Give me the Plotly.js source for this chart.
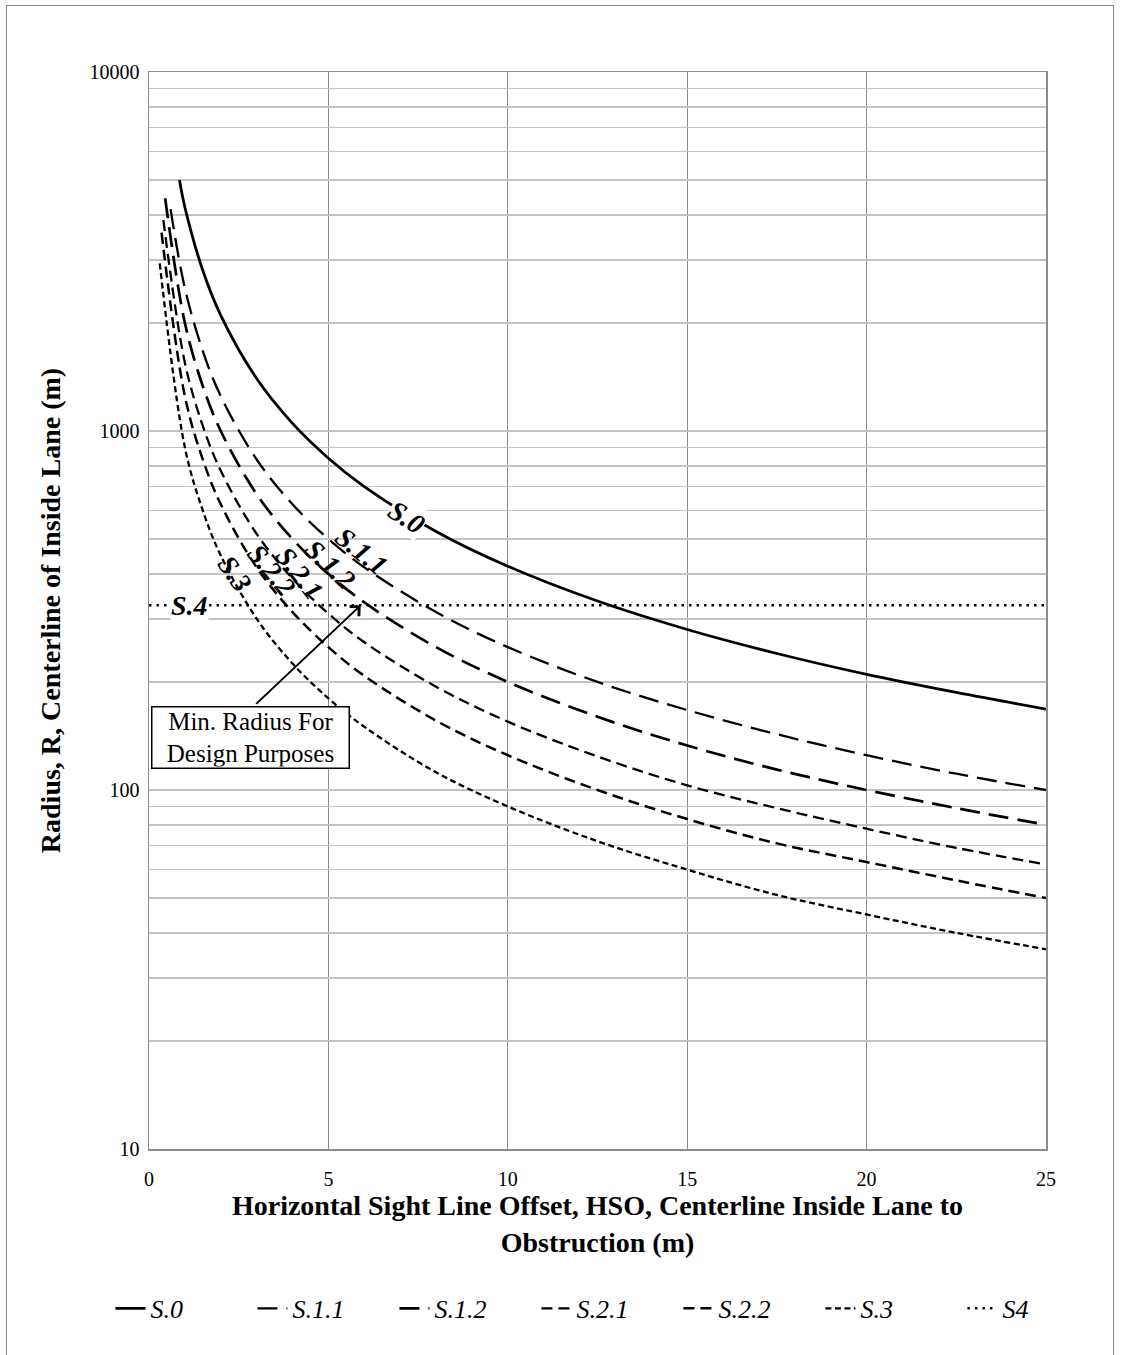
<!DOCTYPE html>
<html>
<head>
<meta charset="utf-8">
<script src="https://cdn.plot.ly/plotly-3.0.1.min.js"></script>
<style>
  html, body { margin: 0; padding: 0; background: #fff; }
  #chart { position: absolute; left: 0; top: 0; width: 1121px; height: 1355px; }
  #frame { position: absolute; left: 6px; top: 5px; width: 1106px; height: 1400px;
           border: 1.5px solid #8a8a8a; pointer-events: none; }
</style>
</head>
<body>
<div id="chart"></div>
<div id="frame"></div>
<script>
// ---- data ----
const hsoS0  = [0.85, 1, 1.5, 2, 3, 4, 5, 6, 8, 10, 12.5, 15, 17.5, 20, 22.5, 25];
const rS0    = [5000, 4200, 2800, 2100, 1400, 1050, 840, 700, 525, 420, 336, 280, 240, 210, 187, 168];

const hsoS11 = [0.6, 1, 1.5, 2, 3, 4, 5, 6, 8, 10, 12.5, 15, 17.5, 20, 22.5, 25];
const rS11   = [4150, 2500, 1670, 1250, 833, 625, 500, 417, 313, 250, 200, 167, 143, 125, 111, 100];

const hsoS12 = [0.45, 1, 1.5, 2, 3, 4, 5, 6, 8, 10, 12.5, 15, 17.5, 20, 22.5, 25];
const rS12   = [4450, 2000, 1333, 1000, 667, 500, 400, 333, 250, 200, 160, 133, 114, 100, 89, 80];

const hsoS21 = [0.4, 1, 1.5, 2, 3, 4, 5, 6, 8, 10, 12.5, 15, 17.5, 20, 22.5, 25];
const rS21   = [3870, 1550, 1033, 775, 517, 388, 310, 258, 194, 155, 124, 103, 89, 78, 69, 62];

const hsoS22 = [0.35, 1, 1.5, 2, 3, 4, 5, 6, 8, 10, 12.5, 15, 17.5, 20, 22.5, 25];
const rS22   = [3570, 1250, 833, 625, 417, 313, 250, 208, 156, 125, 100, 83, 71, 63, 56, 50];

const hsoS3  = [0.3, 1, 1.5, 2, 3, 4, 5, 6, 8, 10, 12.5, 15, 17.5, 20, 22.5, 25];
const rS3    = [2930, 900, 600, 450, 300, 225, 180, 150, 112, 90, 72, 60, 51, 45, 40, 36];

const hsoS4  = [0, 25];
const rS4    = [327, 327];

const seriesNames = ['S.0', 'S.1.1', 'S.1.2', 'S.2.1', 'S.2.2', 'S.3', 'S4'];

const xTickVals = [0, 5, 10, 15, 20, 25];
const yTickVals = [10,20,30,40,50,60,70,80,90,100,200,300,400,500,600,700,800,900,1000,2000,3000,4000,5000,6000,7000,8000,9000,10000];
const yTickText = yTickVals.map(v => [10,100,1000,10000].includes(v) ? String(v) : '');

// curve labels (text, hso, radius, angle)
const lblText  = ['S.0', 'S.1.1', 'S.1.2', 'S.2.1', 'S.2.2', 'S.3', 'S.4'];
const lblX     = [7.19, 5.94, 5.04, 4.21, 3.43, 2.40, 1.14];
const lblY     = [573, 463, 424, 402, 410, 402, 327];
const lblAngle = [33, 39, 43, 52, 50, 55, 0];

// ---- drawing ----
const serif = 'Liberation Serif, Times New Roman, serif';
function tr(x, y, name, dash, width) {
  return { x: x, y: y, name: name, type: 'scatter', mode: 'lines',
           line: { color: '#000', width: width, dash: dash, shape: 'spline', smoothing: 1.0 },
           hoverinfo: 'skip' };
}
const data = [
  tr(hsoS0,  rS0,  seriesNames[0], 'solid', 2.8),
  tr(hsoS11, rS11, seriesNames[1], '20px,9px', 2.3),
  tr(hsoS12, rS12, seriesNames[2], '20px,9px', 2.7),
  tr(hsoS21, rS21, seriesNames[3], '11px,6px', 2.3),
  tr(hsoS22, rS22, seriesNames[4], '11px,6px', 2.5),
  tr(hsoS3,  rS3,  seriesNames[5], '6px,3.5px', 2.3),
  tr(hsoS4,  rS4,  seriesNames[6], '2.5px,5px', 2.6)
];

const annotations = lblText.map((t, i) => ({
  x: lblX[i], y: Math.log10(lblY[i]), xref: 'x', yref: 'y',
  text: '<b><i>' + t + '</i></b>', showarrow: false, textangle: lblAngle[i],
  font: { family: serif, size: 28, color: '#000' },
  bgcolor: (i === 0 || i === 6) ? '#fff' : 'rgba(255,255,255,0)',
  borderpad: 0
}));
// arrow to S.4 line
annotations.push({
  x: 5.9, y: Math.log10(327), xref: 'x', yref: 'y', text: '',
  showarrow: true, arrowhead: 4, arrowsize: 1.3, arrowwidth: 2, arrowcolor: '#000',
  ax: -106, ay: 100, standoff: 0
});
// text box
annotations.push({
  x: 2.84, y: Math.log10(140), xref: 'x', yref: 'y',
  text: 'Min. Radius For<br>Design Purposes', showarrow: false,
  font: { family: serif, size: 25, color: '#000' },
  width: 194, height: 58,
  bgcolor: '#fff', bordercolor: '#000', borderwidth: 1.5, borderpad: 1,
  align: 'center'
});

const layout = {
  width: 1121, height: 1355,
  margin: { l: 149, r: 75, t: 72, b: 206 },
  paper_bgcolor: '#fff', plot_bgcolor: '#fff',
  font: { family: serif, color: '#000' },
  showlegend: true,
  legend: { orientation: 'h', x: -0.043, xanchor: 'left', y: -0.148, yanchor: 'middle',
            font: { family: serif, size: 26, style: 'italic', color: '#000' },
            entrywidth: 97, entrywidthmode: 'pixels',
            tracegroupgap: 0, bgcolor: 'rgba(0,0,0,0)' },
  xaxis: {
    range: [0, 25], tickvals: xTickVals, ticks: '', showgrid: true,
    gridcolor: '#8c8c8c', gridwidth: 1.3, zeroline: false,
    showline: true, mirror: true, linecolor: '#8c8c8c', linewidth: 1.5,
    ticklabelstandoff: 11,
    tickfont: { family: serif, size: 20, color: '#000' },
    title: { text: '<b>Horizontal Sight Line Offset, HSO, Centerline Inside Lane to<br>Obstruction (m)</b>',
             font: { family: serif, size: 28, color: '#000' }, standoff: 7 },
    automargin: false
  },
  yaxis: {
    type: 'log', range: [1, 4], tickvals: yTickVals, ticktext: yTickText, ticks: '',
    showgrid: true, gridcolor: '#c4c4c4', gridwidth: 1.6, zeroline: false,
    showline: true, mirror: true, linecolor: '#8c8c8c', linewidth: 1.5,
    ticklabelstandoff: 4,
    tickfont: { family: serif, size: 20, color: '#000' },
    title: { text: '<b>Radius, R, Centerline of Inside Lane (m)</b>',
             font: { family: serif, size: 28, color: '#000' }, standoff: 20 },
    automargin: false
  },
  annotations: annotations
};

Plotly.newPlot('chart', data, layout, { displayModeBar: false, staticPlot: true });
</script>
</body>
</html>
